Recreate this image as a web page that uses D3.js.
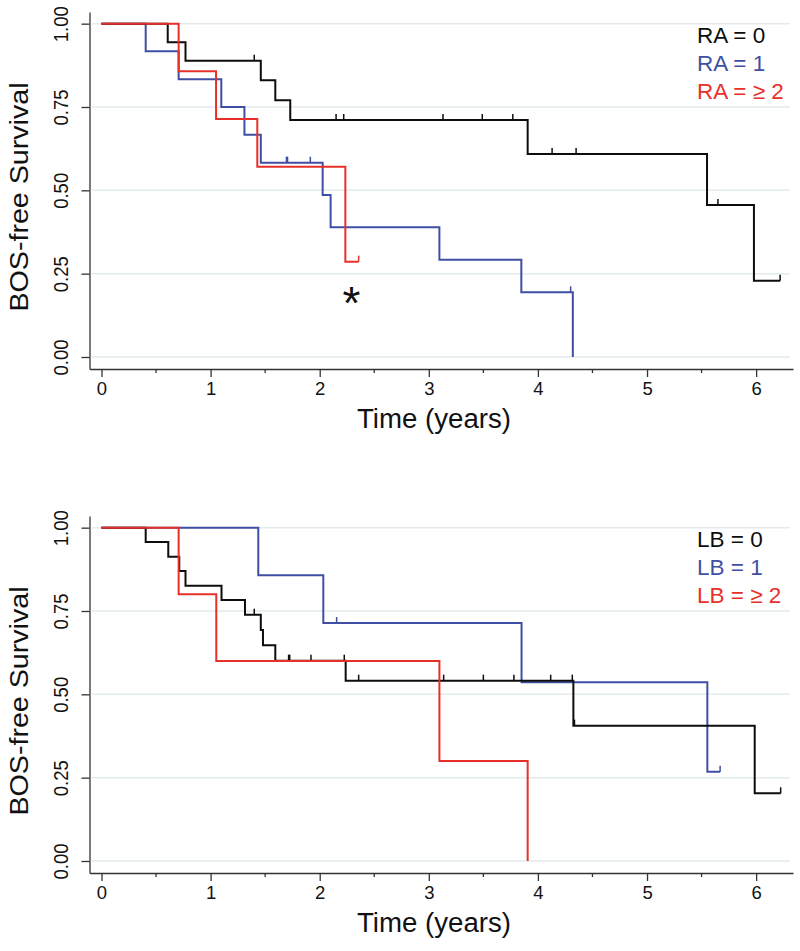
<!DOCTYPE html>
<html><head><meta charset="utf-8">
<script src="https://cdn.jsdelivr.net/npm/d3@7"></script>
<style>body{margin:0;background:#fff}svg{display:block}</style>
</head><body><svg id="c" width="800" height="951"></svg>
<script>
// ---- data ----
const xTicks = [0, 1, 2, 3, 4, 5, 6];
const xMinorTicks = [0.5, 1.5, 2.5, 3.5, 4.5, 5.5];
const yTicks = [0, 0.25, 0.5, 0.75, 1];
const yTitle = "BOS-free Survival";
const xTitle = "Time (years)";

const raLabels = ["RA = 0", "RA = 1", "RA = \u2265 2"];
const lbLabels = ["LB = 0", "LB = 1", "LB = \u2265 2"];

// RA panel
const ra0Time = [0, 0.607, 0.77, 1.46, 1.593, 1.73, 3.906, 5.55, 5.98];
const ra0Surv = [1, 0.944, 0.889, 0.830, 0.770, 0.711, 0.609, 0.456, 0.229];
const ra0End = 6.22;
const ra0Cens = [1.40, 2.15, 2.22, 3.13, 3.49, 3.77, 4.13, 4.35, 5.65, 6.22];

const ra1Time = [0, 0.405, 0.707, 1.098, 1.31, 1.46, 2.027, 2.10, 3.097, 3.848, 4.32];
const ra1Surv = [1, 0.917, 0.833, 0.75, 0.667, 0.583, 0.486, 0.389, 0.292, 0.194, 0];
const ra1End = 4.32;
const ra1Cens = [1.695, 1.705, 1.914, 4.30];

const ra2Time = [0, 0.707, 1.05, 1.428, 2.235];
const ra2Surv = [1, 0.857, 0.714, 0.571, 0.286];
const ra2End = 2.357;
const ra2Cens = [2.357];

// LB panel
const lb0Time = [0, 0.405, 0.612, 0.713, 0.77, 1.10, 1.315, 1.46, 1.48, 1.593, 2.238, 4.325, 5.987];
const lb0Surv = [1, 0.957, 0.913, 0.870, 0.826, 0.783, 0.739, 0.693, 0.647, 0.601, 0.541, 0.406, 0.203];
const lb0End = 6.225;
const lb0Cens = [1.40, 1.715, 1.725, 1.92, 2.225, 2.357, 3.136, 3.50, 3.78, 4.117, 4.315, 4.335, 6.225];

const lb1Time = [0, 1.437, 2.033, 3.85, 5.553];
const lb1Surv = [1, 0.857, 0.714, 0.536, 0.268];
const lb1End = 5.67;
const lb1Cens = [2.155, 5.67];

const lb2Time = [0, 0.707, 1.052, 3.097, 3.906];
const lb2Surv = [1, 0.8, 0.6, 0.3, 0];
const lb2End = 3.906;
const lb2Cens = [];

const colors = ["#0d0d0d", "#3f4fa3", "#e8302a"];
const FONT = "'Liberation Sans', Arial, Helvetica, sans-serif";

// ---- drawing ----
const svg = d3.select("#c");
svg.append("rect").attr("width", 800).attr("height", 951).attr("fill", "#fff");

const x = d3.scaleLinear().domain([-0.11, 6.338]).range([89.5, 793]);
const y = d3.scaleLinear().domain([-0.036, 1.035]).range([369, 12]);

function stepValue(times, surv, t) {
  let v = surv[0];
  for (let i = 0; i < times.length; i++) if (times[i] <= t) v = surv[i];
  return v;
}

function drawPanel(offsetY, series, labels, annotate) {
  const g = svg.append("g").attr("transform", `translate(0,${offsetY})`);

  // gridlines
  g.append("g").selectAll("line").data(yTicks).join("line")
    .attr("x1", 92).attr("x2", 790)
    .attr("y1", d => y(d)).attr("y2", d => y(d))
    .attr("stroke", "#e3ebee").attr("stroke-width", 1.5);

  // x axis
  const xa = g.append("g").attr("transform", `translate(0,${y.range()[0]})`)
    .call(d3.axisBottom(x).tickValues(xTicks).tickSize(8).tickSizeOuter(0).tickFormat(d3.format("d")));
  xa.select(".domain").attr("stroke", "#333").attr("stroke-width", 1.3);
  xa.selectAll(".tick line").attr("stroke", "#333").attr("stroke-width", 1.3);
  xa.selectAll(".tick text").attr("font-family", FONT).attr("font-size", 18.5)
    .attr("fill", "#111").attr("y", 13).attr("dy", "0.71em");
  xa.append("g").selectAll("line").data(xMinorTicks).join("line")
    .attr("x1", d => x(d)).attr("x2", d => x(d)).attr("y1", 0).attr("y2", 4)
    .attr("stroke", "#333").attr("stroke-width", 1.3);

  // y axis
  const ya = g.append("g").attr("transform", `translate(${x.range()[0]},0)`)
    .call(d3.axisLeft(y).tickValues(yTicks).tickSize(8).tickSizeOuter(0).tickFormat(d3.format(".2f")));
  ya.select(".domain").attr("stroke", "#333").attr("stroke-width", 1.3);
  ya.selectAll(".tick line").attr("stroke", "#333").attr("stroke-width", 1.3);
  ya.selectAll(".tick text").attr("font-family", FONT).attr("font-size", 21)
    .attr("fill", "#111").attr("x", null).attr("dy", null)
    .attr("text-anchor", "middle")
    .attr("textLength", 36).attr("lengthAdjust", "spacingAndGlyphs")
    .attr("transform", "translate(-21.5,0) rotate(-90)");

  // axis titles
  g.append("text").attr("x", 434).attr("y", 428)
    .attr("text-anchor", "middle").attr("font-family", FONT).attr("font-size", 27)
    .attr("fill", "#111").attr("textLength", 154).attr("lengthAdjust", "spacingAndGlyphs")
    .text(xTitle);
  g.append("text").attr("transform", `translate(28,${197}) rotate(-90)`)
    .attr("text-anchor", "middle").attr("font-family", FONT).attr("font-size", 26)
    .attr("fill", "#111").attr("textLength", 229).attr("lengthAdjust", "spacingAndGlyphs")
    .text(yTitle);

  const line = d3.line().x(d => x(d[0])).y(d => y(d[1])).curve(d3.curveStepAfter);

  // draw order: blue, black, red
  [1, 0, 2].forEach(i => {
    const s = series[i];
    const pts = s.time.map((t, k) => [t, s.surv[k]]);
    pts.push([s.end, s.surv[s.surv.length - 1]]);
    g.append("path").datum(pts).attr("d", line)
      .attr("fill", "none").attr("stroke", colors[i]).attr("stroke-width", 2)
      .attr("stroke-linejoin", "miter");
    g.append("g").selectAll("line").data(s.cens).join("line")
      .attr("x1", d => x(d)).attr("x2", d => x(d))
      .attr("y1", d => y(stepValue(s.time, s.surv, d)))
      .attr("y2", d => y(stepValue(s.time, s.surv, d)) - 6)
      .attr("stroke", colors[i]).attr("stroke-width", 1.5);
  });

  // legend
  g.append("g").selectAll("text").data(labels).join("text")
    .attr("x", 697).attr("y", (d, i) => 43 + i * 28)
    .attr("font-family", FONT).attr("font-size", 22.5)
    .attr("fill", (d, i) => colors[i]).text(d => d);

  if (annotate) {
    g.append("text").attr("x", x(annotate.t)).attr("y", y(annotate.s))
      .attr("text-anchor", "middle").attr("dy", "0.55em")
      .attr("font-family", FONT).attr("font-size", 46).attr("fill", "#111")
      .text(annotate.label);
  }
}

drawPanel(0, [
  {time: ra0Time, surv: ra0Surv, end: ra0End, cens: ra0Cens},
  {time: ra1Time, surv: ra1Surv, end: ra1End, cens: ra1Cens},
  {time: ra2Time, surv: ra2Surv, end: ra2End, cens: ra2Cens}
], raLabels, {t: 2.29, s: 0.19, label: "*"});

drawPanel(504, [
  {time: lb0Time, surv: lb0Surv, end: lb0End, cens: lb0Cens},
  {time: lb1Time, surv: lb1Surv, end: lb1End, cens: lb1Cens},
  {time: lb2Time, surv: lb2Surv, end: lb2End, cens: lb2Cens}
], lbLabels, null);
</script>
</body></html>
